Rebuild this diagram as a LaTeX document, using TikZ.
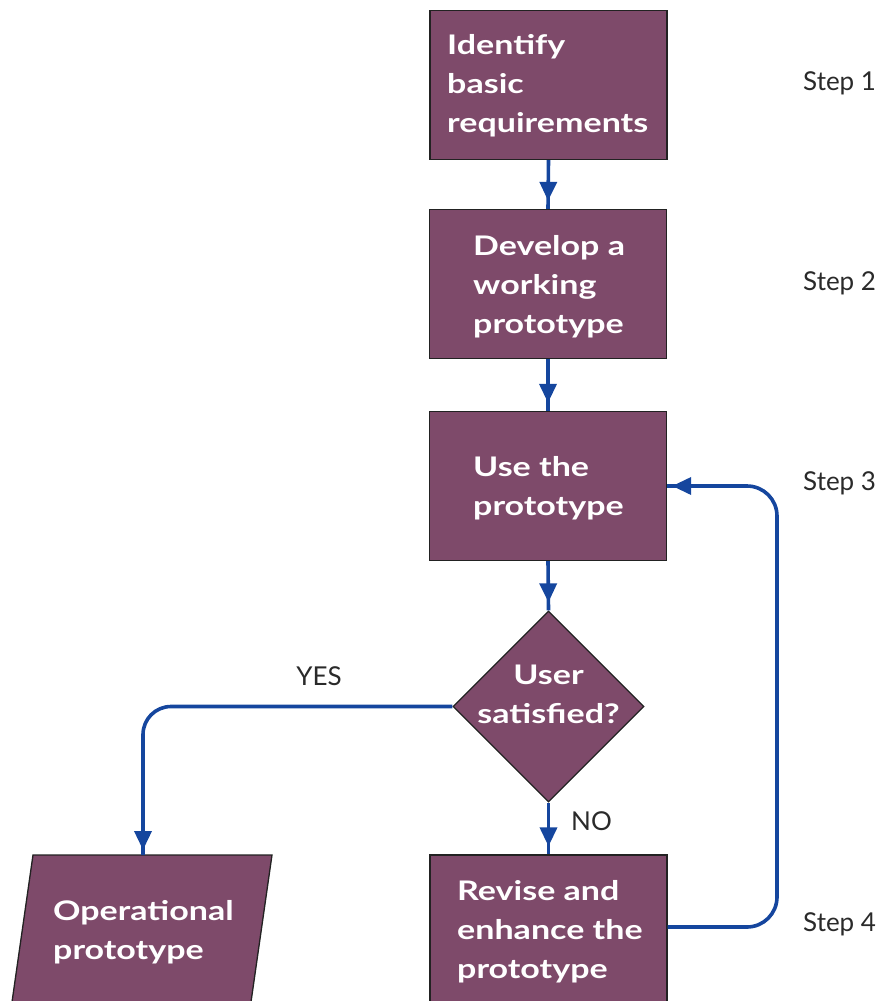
\documentclass[tikz,border=0pt]{standalone}
\usepackage{fontspec}
\setmainfont{Lato}
\newfontfamily\boxfont[FakeStretch=1.26]{Lato}
\usetikzlibrary{arrows.meta,decorations.markings,shapes.geometric}
\definecolor{boxfill}{HTML}{7E4A6A}
\definecolor{lineblue}{HTML}{15469E}
\definecolor{edgecol}{HTML}{222222}
\definecolor{labelcol}{HTML}{2A2A2A}
\begin{document}
\begin{tikzpicture}[x=1pt,y=-1pt,
  box/.style={draw=edgecol, line width=1.3pt, fill=boxfill, rectangle,
    minimum width=237pt, minimum height=149pt, inner sep=0pt},
  decbox/.style={draw=edgecol, line width=1.3pt, fill=boxfill, diamond,
    minimum width=191pt, minimum height=191pt, inner sep=0pt},
  btext/.style={text=white, font=\boxfont\bfseries\fontsize{27}{39}\selectfont,
    align=left, inner sep=0pt, anchor=west},
  steplabel/.style={text=labelcol, font=\fontsize{26}{30}\selectfont,
    inner sep=0pt, anchor=west},
  conn/.style={draw=lineblue, line width=3.6pt, postaction={decorate},
    decoration={markings, mark=at position -8pt with {\arrow{Triangle[width=17pt,length=19pt]}}}},
  conn2/.style={draw=lineblue, line width=3.6pt, postaction={decorate},
    decoration={markings, mark=at position -5pt with {\arrow{Triangle[width=17pt,length=19pt]}}}}
]
\useasboundingbox (0,0) rectangle (890,1001);
\clip (0,0) rectangle (890,1001);

% boxes
\node[box] (b1) at (548.5,85) {};
\node[box] (b2) at (548,284) {};
\node[box] (b3) at (548,486) {};
\node[decbox] (d) at (548.5,706.5) {};
\node[box, minimum height=152pt] (b4) at (548.5,931) {};
\draw[draw=edgecol, line width=1.3pt, fill=boxfill]
  (33,855) -- (272,855) -- (247,1030) -- (8,1030) -- cycle;
\coordinate (optop) at (143,855);

% texts
\node[btext] (t1) at (447,86) {Identify\\basic\\requirements};
\node[btext] (t2) at (473,287) {Develop a\\working\\prototype};
\node[btext] (t3) at (473,488) {Use the\\prototype};
\node[btext, anchor=center, align=center] (td) at (548.5,694) {User\\satisfied?};
\node[btext] (t4) at (457,932) {Revise and\\enhance the\\prototype};
\node[btext] (top) at (53,932) {Operational\\prototype};

% step labels
\node[steplabel] (s1) at (803,83) {Step 1};
\node[steplabel] (s2) at (803,283) {Step 2};
\node[steplabel] (s3) at (803,483) {Step 3};
\node[steplabel] (s4) at (803,924) {Step 4};
\node[steplabel, anchor=center] (yes) at (319,676) {YES};
\node[steplabel] (no) at (571,821) {NO};

% connectors
\draw[conn] (b1.south) -- (b2.north);
\draw[conn] (b2.south) -- (b3.north);
\draw[conn] (b3.south) -- (d.north);
\draw[conn] (d.south) -- (b4.north);
\draw[conn2, rounded corners=28pt] (d.west) -| (optop);
\draw[conn2, rounded corners=30pt] (b4.east |- 0,927) -- (777,927) -- (777,486) -- (b3.east);
\end{tikzpicture}
\end{document}
